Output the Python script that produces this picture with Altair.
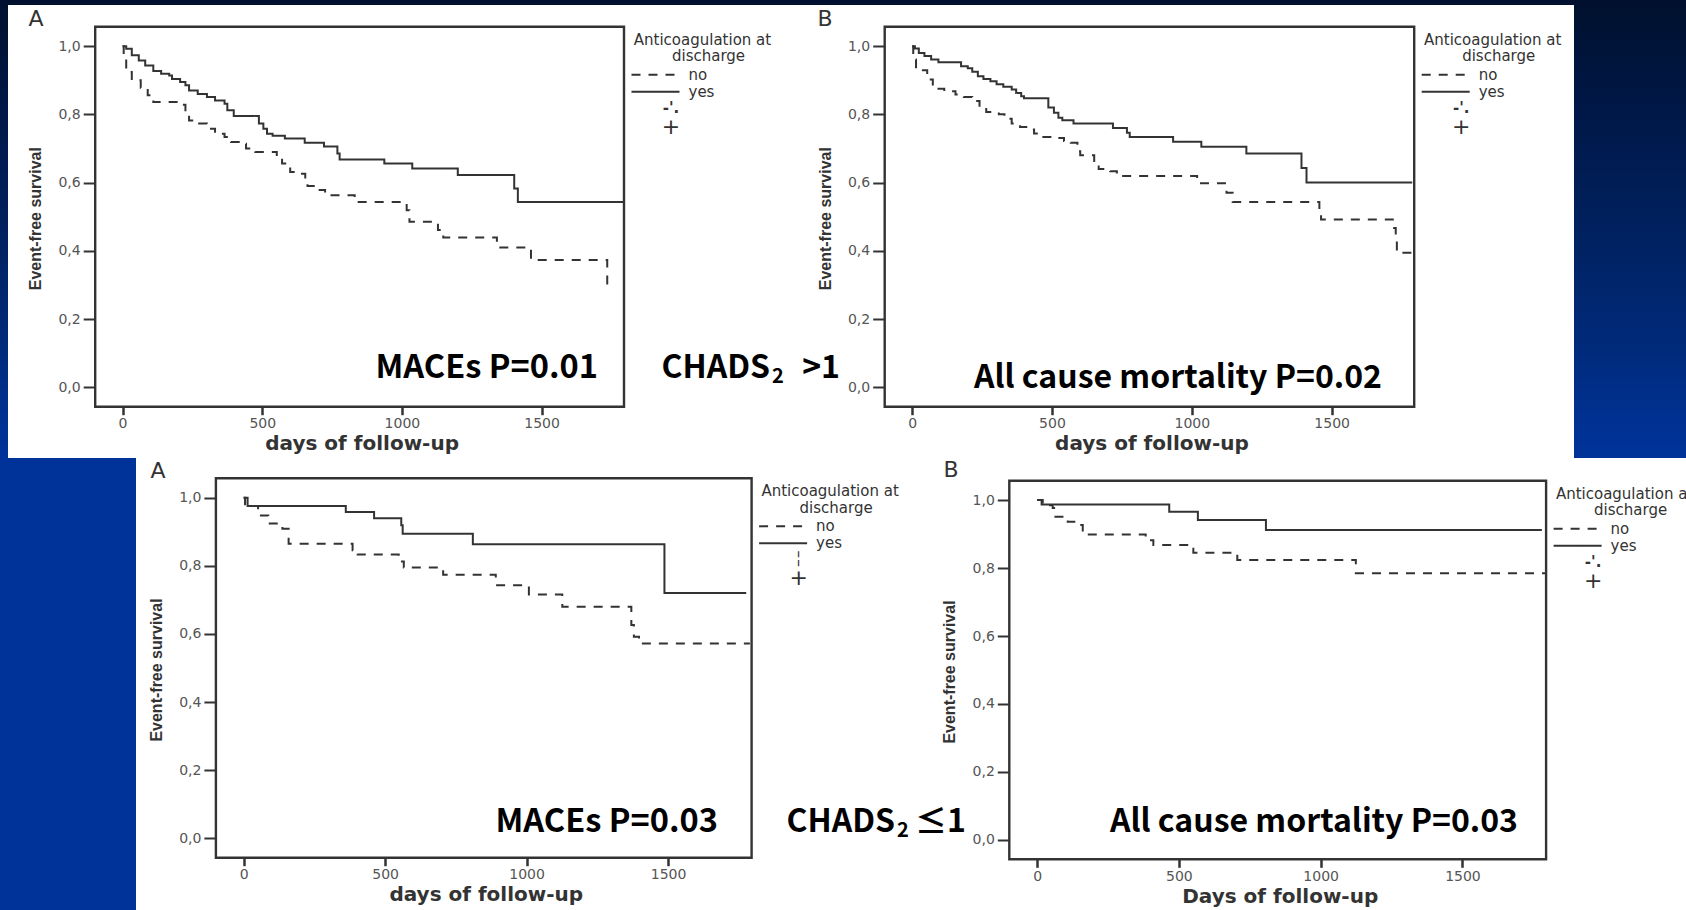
import altair as alt
import pandas as pd

W, H = 1686, 910

# ---------------- data ----------------
# CHADS2 > 1, A: MACEs
TA_YES_DAY = [0, 13, 33, 58, 81, 110, 138, 167, 177, 206, 225, 238, 269, 302, 331, 365, 375, 398,
              488, 504, 517, 537, 581, 652, 721, 769, 777, 937, 1037, 1200, 1402, 1415, 1792]
TA_YES_SURV = [1.0, .992, .973, .958, .943, .927, .919, .914, .904, .895, .885, .870, .860, .851, .841,
               .831, .812, .795, .773, .758, .743, .737, .729, .717, .706, .685, .668, .656, .641, .622,
               .583, .543, .543]
TA_NO_DAY = [0, 4, 13, 33, 65, 90, 110, 206, 225, 238, 263, 302, 331, 365, 388, 427, 442, 475, 552,
             571, 600, 638, 654, 662, 696, 725, 831, 1017, 1027, 1129, 1148, 1340, 1462, 1735, 1754]
TA_NO_SURV = [1.0, .958, .924, .900, .878, .856, .836, .828, .812, .782, .773, .758, .743, .734, .719,
              .714, .700, .690, .678, .656, .631, .626, .607, .590, .578, .563, .543, .519, .485, .461,
              .439, .410, .373, .295, .295]

# CHADS2 > 1, B: all cause mortality
TB_YES_DAY = [0, 10, 24, 44, 68, 94, 175, 199, 215, 235, 255, 280, 302, 326, 356, 372, 390, 400, 487,
              507, 523, 537, 577, 718, 768, 778, 933, 1034, 1195, 1392, 1410, 1788]
TB_YES_SURV = [1.0, .993, .980, .971, .961, .953, .941, .935, .925, .912, .904, .897, .888, .881, .873,
               .863, .853, .847, .820, .805, .790, .783, .773, .760, .746, .734, .720, .705, .685, .643,
               .600, .600]
TB_NO_DAY = [0, 4, 14, 54, 74, 115, 155, 185, 215, 241, 265, 310, 330, 356, 386, 416, 436, 457, 507,
             543, 567, 591, 601, 651, 667, 708, 732, 1019, 1124, 1146, 1456, 1462, 1723, 1729, 1733, 1788]
TB_NO_SURV = [1.0, .961, .929, .902, .875, .868, .858, .851, .839, .820, .807, .800, .787, .773, .763,
              .756, .744, .734, .731, .722, .717, .692, .680, .658, .640, .633, .619, .598, .570, .543,
              .513, .492, .467, .433, .394, .394]

# CHADS2 <= 1, A: MACEs
BA_YES_DAY = [0, 14, 361, 461, 557, 562, 810, 1487, 1776]
BA_YES_SURV = [1.0, .976, .958, .940, .919, .894, .863, .720, .720]
BA_NO_DAY = [0, 5, 51, 87, 137, 159, 385, 403, 548, 566, 705, 891, 1008, 1126, 1370, 1379, 1397, 1789]
BA_NO_SURV = [1.0, .976, .948, .924, .909, .865, .846, .833, .813, .795, .774, .743, .716, .680, .626,
              .592, .572, .572]

# CHADS2 <= 1, B: all cause mortality
BB_YES_DAY = [0, 16, 466, 567, 807, 1780]
BB_YES_SURV = [1.0, .987, .966, .941, .912, .912]
BB_NO_DAY = [0, 20, 55, 60, 108, 144, 161, 383, 410, 551, 706, 1124, 1795]
BB_NO_SURV = [1.0, .985, .977, .951, .936, .927, .899, .882, .868, .845, .824, .785, .785]

GROUPS = ["no", "yes"]
X_DOMAIN = [-98, 1795]
Y_DOMAIN = [-0.057, 1.057]
X_TICKS = [0, 500, 1000, 1500]
Y_TICKS = [0.0, 0.2, 0.4, 0.6, 0.8, 1.0]

# ---------------- layout (pixels) ----------------
INK = "#333333"
LABEL_GREY = "#555555"
SPSS_FONT = "DejaVu Sans"
BIG_FONT = "Noto Sans CJK KR"

PANELS = [
    dict(frame=(95.2, 624.0, 26.7, 406.7), letter="A", letter_xy=(36, 19), xtitle="days of follow-up",
         yes=(TA_YES_DAY, TA_YES_SURV), no=(TA_NO_DAY, TA_NO_SURV), censor="-'."),
    dict(frame=(884.7, 1414.2, 26.7, 406.7), letter="B", letter_xy=(825, 19), xtitle="days of follow-up",
         yes=(TB_YES_DAY, TB_YES_SURV), no=(TB_NO_DAY, TB_NO_SURV), censor="-'."),
    dict(frame=(215.9, 751.6, 478.3, 857.7), letter="A", letter_xy=(158, 471), xtitle="days of follow-up",
         yes=(BA_YES_DAY, BA_YES_SURV), no=(BA_NO_DAY, BA_NO_SURV), censor="\u254e"),
    dict(frame=(1009.3, 1546.1, 480.7, 859.3), letter="B", letter_xy=(951, 470), xtitle="Days of follow-up",
         yes=(BB_YES_DAY, BB_YES_SURV), no=(BB_NO_DAY, BB_NO_SURV), censor="-'."),
]

ONE = pd.DataFrame({"k": [0]})


def text_layer(label, x, y, size, font=SPSS_FONT, weight="normal", align="center", baseline="middle",
               color=INK):
    return alt.Chart(ONE).mark_text(text=label, font=font, fontSize=size, fontWeight=weight, align=align,
                                    baseline=baseline, color=color).encode(x=alt.value(x), y=alt.value(y))


def rect_layer(x0, x1, y0, y1, fill):
    return alt.Chart(ONE).mark_rect(fill=fill).encode(
        x=alt.value(x0), x2=alt.value(x1), y=alt.value(y0), y2=alt.value(y1))


def panel(p):
    l, r, t, b = p["frame"]

    def xs():
        return alt.Scale(domain=X_DOMAIN, range=[l, r], nice=False, zero=False)

    def ys():
        return alt.Scale(domain=Y_DOMAIN, range=[b, t], nice=False, zero=False)

    df = pd.concat([
        pd.DataFrame({"day": p["no"][0], "surv": p["no"][1], "group": GROUPS[0]}),
        pd.DataFrame({"day": p["yes"][0], "surv": p["yes"][1], "group": GROUPS[1]}),
    ], ignore_index=True)
    frame_df = pd.DataFrame({"x0": [X_DOMAIN[0]], "x1": [X_DOMAIN[1]], "y0": [Y_DOMAIN[0]], "y1": [Y_DOMAIN[1]]})
    frame = alt.Chart(frame_df).mark_rect(fill="white", stroke=INK, strokeWidth=2.4).encode(
        x=alt.X("x0:Q", scale=xs(), axis=None), x2="x1",
        y=alt.Y("y0:Q", scale=ys(), axis=None), y2="y1")
    S = r + 7.5  # start of the legend line samples
    xaxis = alt.Axis(orient="bottom", offset=b - H, values=X_TICKS, format="d", domain=False, grid=False,
                     tickSize=8, tickWidth=2.5, tickColor=INK, labelFont=SPSS_FONT, labelFontSize=14,
                     labelColor=LABEL_GREY, labelPadding=2, labelFlush=False, title=p["xtitle"],
                     titleFont=SPSS_FONT, titleFontSize=20, titleFontWeight="bold", titleColor=INK,
                     titleX=(l + r) / 2 + 2, titleY=37, titleBaseline="middle", zindex=1)
    yaxis = alt.Axis(orient="left", offset=-l, values=Y_TICKS,
                     labelExpr="replace(format(datum.value, '.1f'), '.', ',')", domain=False, grid=False,
                     tickSize=12, tickWidth=2, tickColor=INK, labelFont=SPSS_FONT, labelFontSize=14,
                     labelColor=LABEL_GREY, labelPadding=3, title="Event-free survival",
                     titleFont="Liberation Sans", titleFontSize=16,
                     titleFontWeight="bold", titleColor=INK, titleAngle=270, titleX=-59.5,
                     titleY=(t + b) / 2 + 1.5, titleBaseline="middle", zindex=1)
    legend = alt.Legend(orient="none", legendX=S + 15.5, legendY=t + 39.5, title=None, direction="vertical",
                        symbolType="M-3.2,0H3.2", symbolSize=225, symbolStrokeWidth=2,
                        symbolStrokeColor=INK, symbolFillColor="transparent", symbolOffset=0,
                        labelFont=SPSS_FONT, labelFontSize=15, labelColor=INK, labelOffset=24.5,
                        rowPadding=0, padding=0, zindex=1)
    lines = alt.Chart(df).mark_line(interpolate="step-after", color=INK, strokeWidth=2).encode(
        x=alt.X("day:Q", scale=xs(), axis=xaxis),
        y=alt.Y("surv:Q", scale=ys(), axis=yaxis),
        strokeDash=alt.StrokeDash("group:N", scale=alt.Scale(domain=GROUPS, range=[[9, 8], [1, 0]]),
                                  legend=legend),
    )
    extras = [
        text_layer(p["letter"], p["letter_xy"][0], p["letter_xy"][1], 22),
        text_layer("Anticoagulation at", S + 71, t + 13, 15),
        text_layer("discharge", S + 77, t + 29.5, 15),
        text_layer(p["censor"], S + 39.5, t + 81, 15, weight="bold"),
        text_layer("+", S + 39.5, t + 100, 22),
    ]
    return [frame, lines], extras


# slide background: blue only where the pasted white figures do not cover it
grad = alt.LinearGradient(gradient="linear", x1=0, x2=0, y1=0, y2=1, stops=[
    alt.GradientStop(offset=0, color="#00112f"),
    alt.GradientStop(offset=0.24, color="#001848"),
    alt.GradientStop(offset=0.5, color="#00215f"),
    alt.GradientStop(offset=0.75, color="#002a7a"),
    alt.GradientStop(offset=0.92, color="#003192"),
    alt.GradientStop(offset=1, color="#003399"),
])
blue_parts = [
    rect_layer(0, W, 0, 5, "#00102e"),
    rect_layer(0, 8, 5, 458, grad),
    rect_layer(1574, W, 5, 458, grad),
    rect_layer(0, 136, 458, H, "#003399"),
]

layers = list(blue_parts)
extra_layers = []
for p in PANELS:
    pl, ex = panel(p)
    layers.extend(pl)
    extra_layers.extend(ex)

big = 32


def big_text(label, x, y, size=big, align="right"):
    return text_layer(label, x, y, size, font=BIG_FONT, weight="bold", align=align,
                      baseline="alphabetic", color="#000")


annotations = [
    big_text("MACEs P=0.01", 598, 377.5, size=32.6),
    big_text("CHADS", 770, 377.5),
    big_text("2", 772, 383, size=20, align="left"),
    big_text(">1", 840, 377.5),
    big_text("All cause mortality P=0.02", 1382, 388),
    big_text("MACEs P=0.03", 718, 831.5, size=32.6),
    big_text("CHADS", 895, 831.5),
    big_text("2", 897, 837, size=20, align="left"),
    big_text("\u22641", 966, 831.5),
    big_text("All cause mortality P=0.03", 1518, 831.5),
]

chart = alt.layer(*layers, *extra_layers, *annotations).resolve_scale(
    x="independent", y="independent", strokeDash="independent"
).properties(
    width=W, height=H, padding=0, autosize=alt.AutoSizeParams(type="none"), background="white"
).configure_view(strokeWidth=0)

chart.save("out.html", embed_options={"renderer": "svg", "actions": False})
